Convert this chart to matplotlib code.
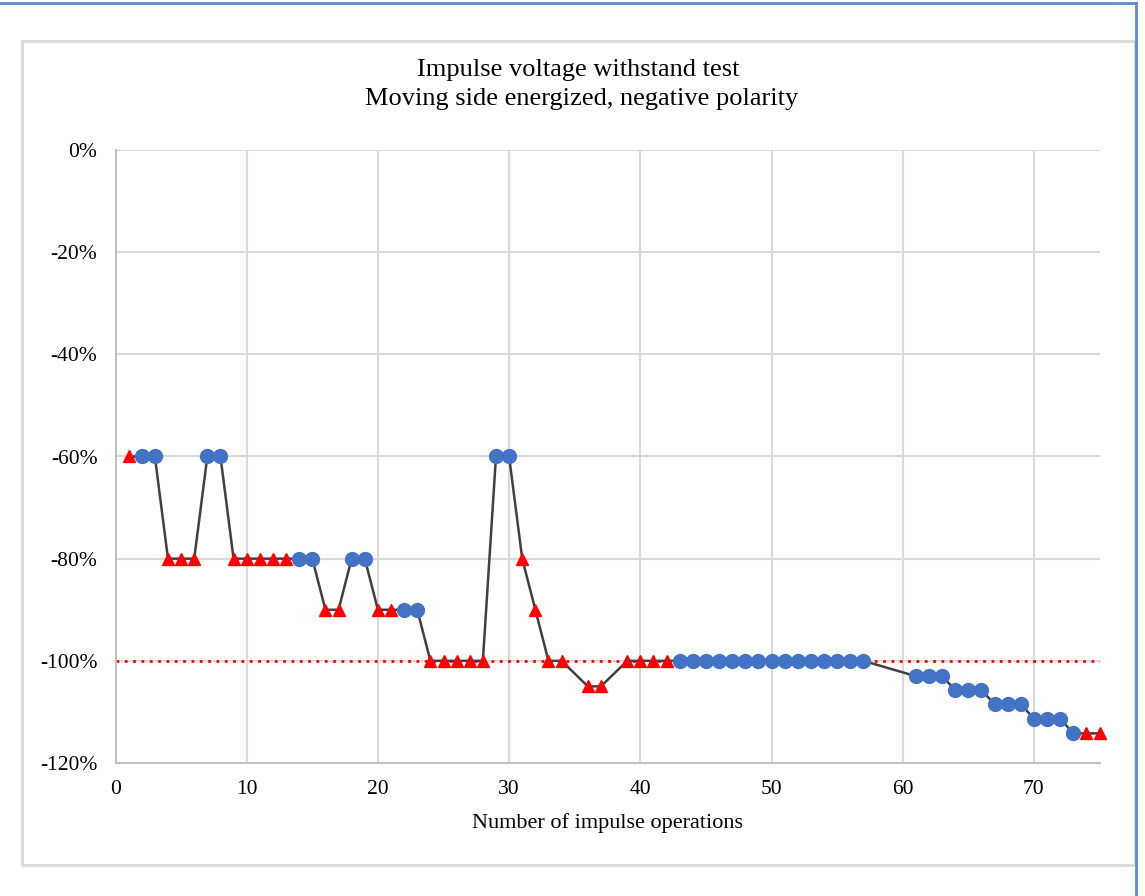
import matplotlib
matplotlib.use("Agg")
import matplotlib.pyplot as plt
from matplotlib.patches import Rectangle
from matplotlib.lines import Line2D
from matplotlib.ticker import FuncFormatter

plt.rcParams['font.family'] = ['Liberation Serif', 'DejaVu Serif']

# impulse operation number
operations = [1, 2, 3, 4, 5, 6, 7, 8, 9, 10, 11, 12, 13, 14, 15, 16, 17, 18, 19, 20,
              21, 22, 23, 24, 25, 26, 27, 28, 29, 30, 31, 32, 33, 34, 36, 37, 39, 40, 41, 42,
              43, 44, 45, 46, 47, 48, 49, 50, 51, 52, 53, 54, 55, 56, 57,
              61, 62, 63, 64, 65, 66, 67, 68, 69, 70, 71, 72, 73, 74, 75]
# test voltage level in %
levels = [-60, -60, -60, -80, -80, -80, -60, -60, -80, -80, -80, -80, -80, -80, -80, -90, -90, -80, -80, -90,
          -90, -90, -90, -100, -100, -100, -100, -100, -60, -60, -80, -90, -100, -100, -105, -105, -100, -100, -100, -100,
          -100, -100, -100, -100, -100, -100, -100, -100, -100, -100, -100, -100, -100, -100, -100,
          -103, -103, -103, -105.7, -105.7, -105.7, -108.5, -108.5, -108.5, -111.3, -111.3, -111.3, -114.2, -114.2, -114.2]
# outcome: 'W' withstand (blue circle), 'D' disruptive / other (red triangle)
outcome = ['D', 'W', 'W', 'D', 'D', 'D', 'W', 'W', 'D', 'D', 'D', 'D', 'D', 'W', 'W', 'D', 'D', 'W', 'W', 'D',
           'D', 'W', 'W', 'D', 'D', 'D', 'D', 'D', 'W', 'W', 'D', 'D', 'D', 'D', 'D', 'D', 'D', 'D', 'D', 'D',
           'W', 'W', 'W', 'W', 'W', 'W', 'W', 'W', 'W', 'W', 'W', 'W', 'W', 'W', 'W',
           'W', 'W', 'W', 'W', 'W', 'W', 'W', 'W', 'W', 'W', 'W', 'W', 'W', 'D', 'D']
reference_level = -100
x_ticks = [0, 10, 20, 30, 40, 50, 60, 70]
y_ticks = [0, -20, -40, -60, -80, -100, -120]

W, H = 1145, 896
fig = plt.figure(figsize=(W / 100, H / 100), dpi=100)
fig.patch.set_facecolor('white')

# outer window border (blue) and chart area border (light gray)
fig.add_artist(Line2D([0, 1136 / W], [1 - 3.5 / H, 1 - 3.5 / H], transform=fig.transFigure,
                      color='#5E8BD1', lw=2))
fig.add_artist(Line2D([1136 / W, 1136 / W], [0, 1 - 3.5 / H], transform=fig.transFigure,
                      color='#5E8BD1', lw=2))
fig.add_artist(Rectangle((22 / W, 1 - 865 / H), (1135 - 22) / W, (865 - 41) / H,
                         transform=fig.transFigure, fill=False, edgecolor='#D9D9D9', lw=2))

ax = fig.add_axes([115.5 / W, 1 - 763 / H, (1099.5 - 115.5) / W, (763 - 150) / H])
ax.set_xlim(0, 75)
ax.set_ylim(-120, 0)

ax.set_xticks(x_ticks)
ax.set_yticks(y_ticks)
ax.yaxis.set_major_formatter(FuncFormatter(lambda v, p: f"{int(v)}%"))
ax.grid(True, color='#D9D9D9', lw=1.5)
ax.set_axisbelow(True)
for s in ['top', 'right']:
    ax.spines[s].set_visible(False)
for s in ['left', 'bottom']:
    ax.spines[s].set_color('#BFBFBF')
    ax.spines[s].set_linewidth(1.5)
ax.tick_params(axis='both', length=0, labelsize=15.5, colors='#000000')
ax.tick_params(axis='x', pad=12)
ax.tick_params(axis='y', pad=13)

ax.axhline(reference_level, color='#FF0000', lw=2, ls=(0, (1, 2)), zorder=2)
ax.plot(operations, levels, color='#404040', lw=1.8, zorder=3)

wx = [o for o, k in zip(operations, outcome) if k == 'W']
wy = [v for v, k in zip(levels, outcome) if k == 'W']
dx = [o for o, k in zip(operations, outcome) if k == 'D']
dy = [v for v, k in zip(levels, outcome) if k == 'D']
ax.plot(wx, wy, 'o', color='#4472C4', ms=10, mec='#4472C4', zorder=4, clip_on=False)
ax.plot(dx, dy, '^', color='#FF0000', ms=9, mec='#FF0000', zorder=4, clip_on=False)

ax.set_xlabel('Number of impulse operations', fontsize=16)
ax.xaxis.label.set_va('baseline')
ax.xaxis.set_label_coords(0.5, (763 - 828) / (763 - 150))

fig.text(578 / W, 1 - 76 / H, 'Impulse voltage withstand test', ha='center', va='baseline', fontsize=19)
fig.text(582 / W, 1 - 105 / H, 'Moving side energized, negative polarity', ha='center', va='baseline', fontsize=19)

fig.savefig('out.png', dpi=100, facecolor='white')
